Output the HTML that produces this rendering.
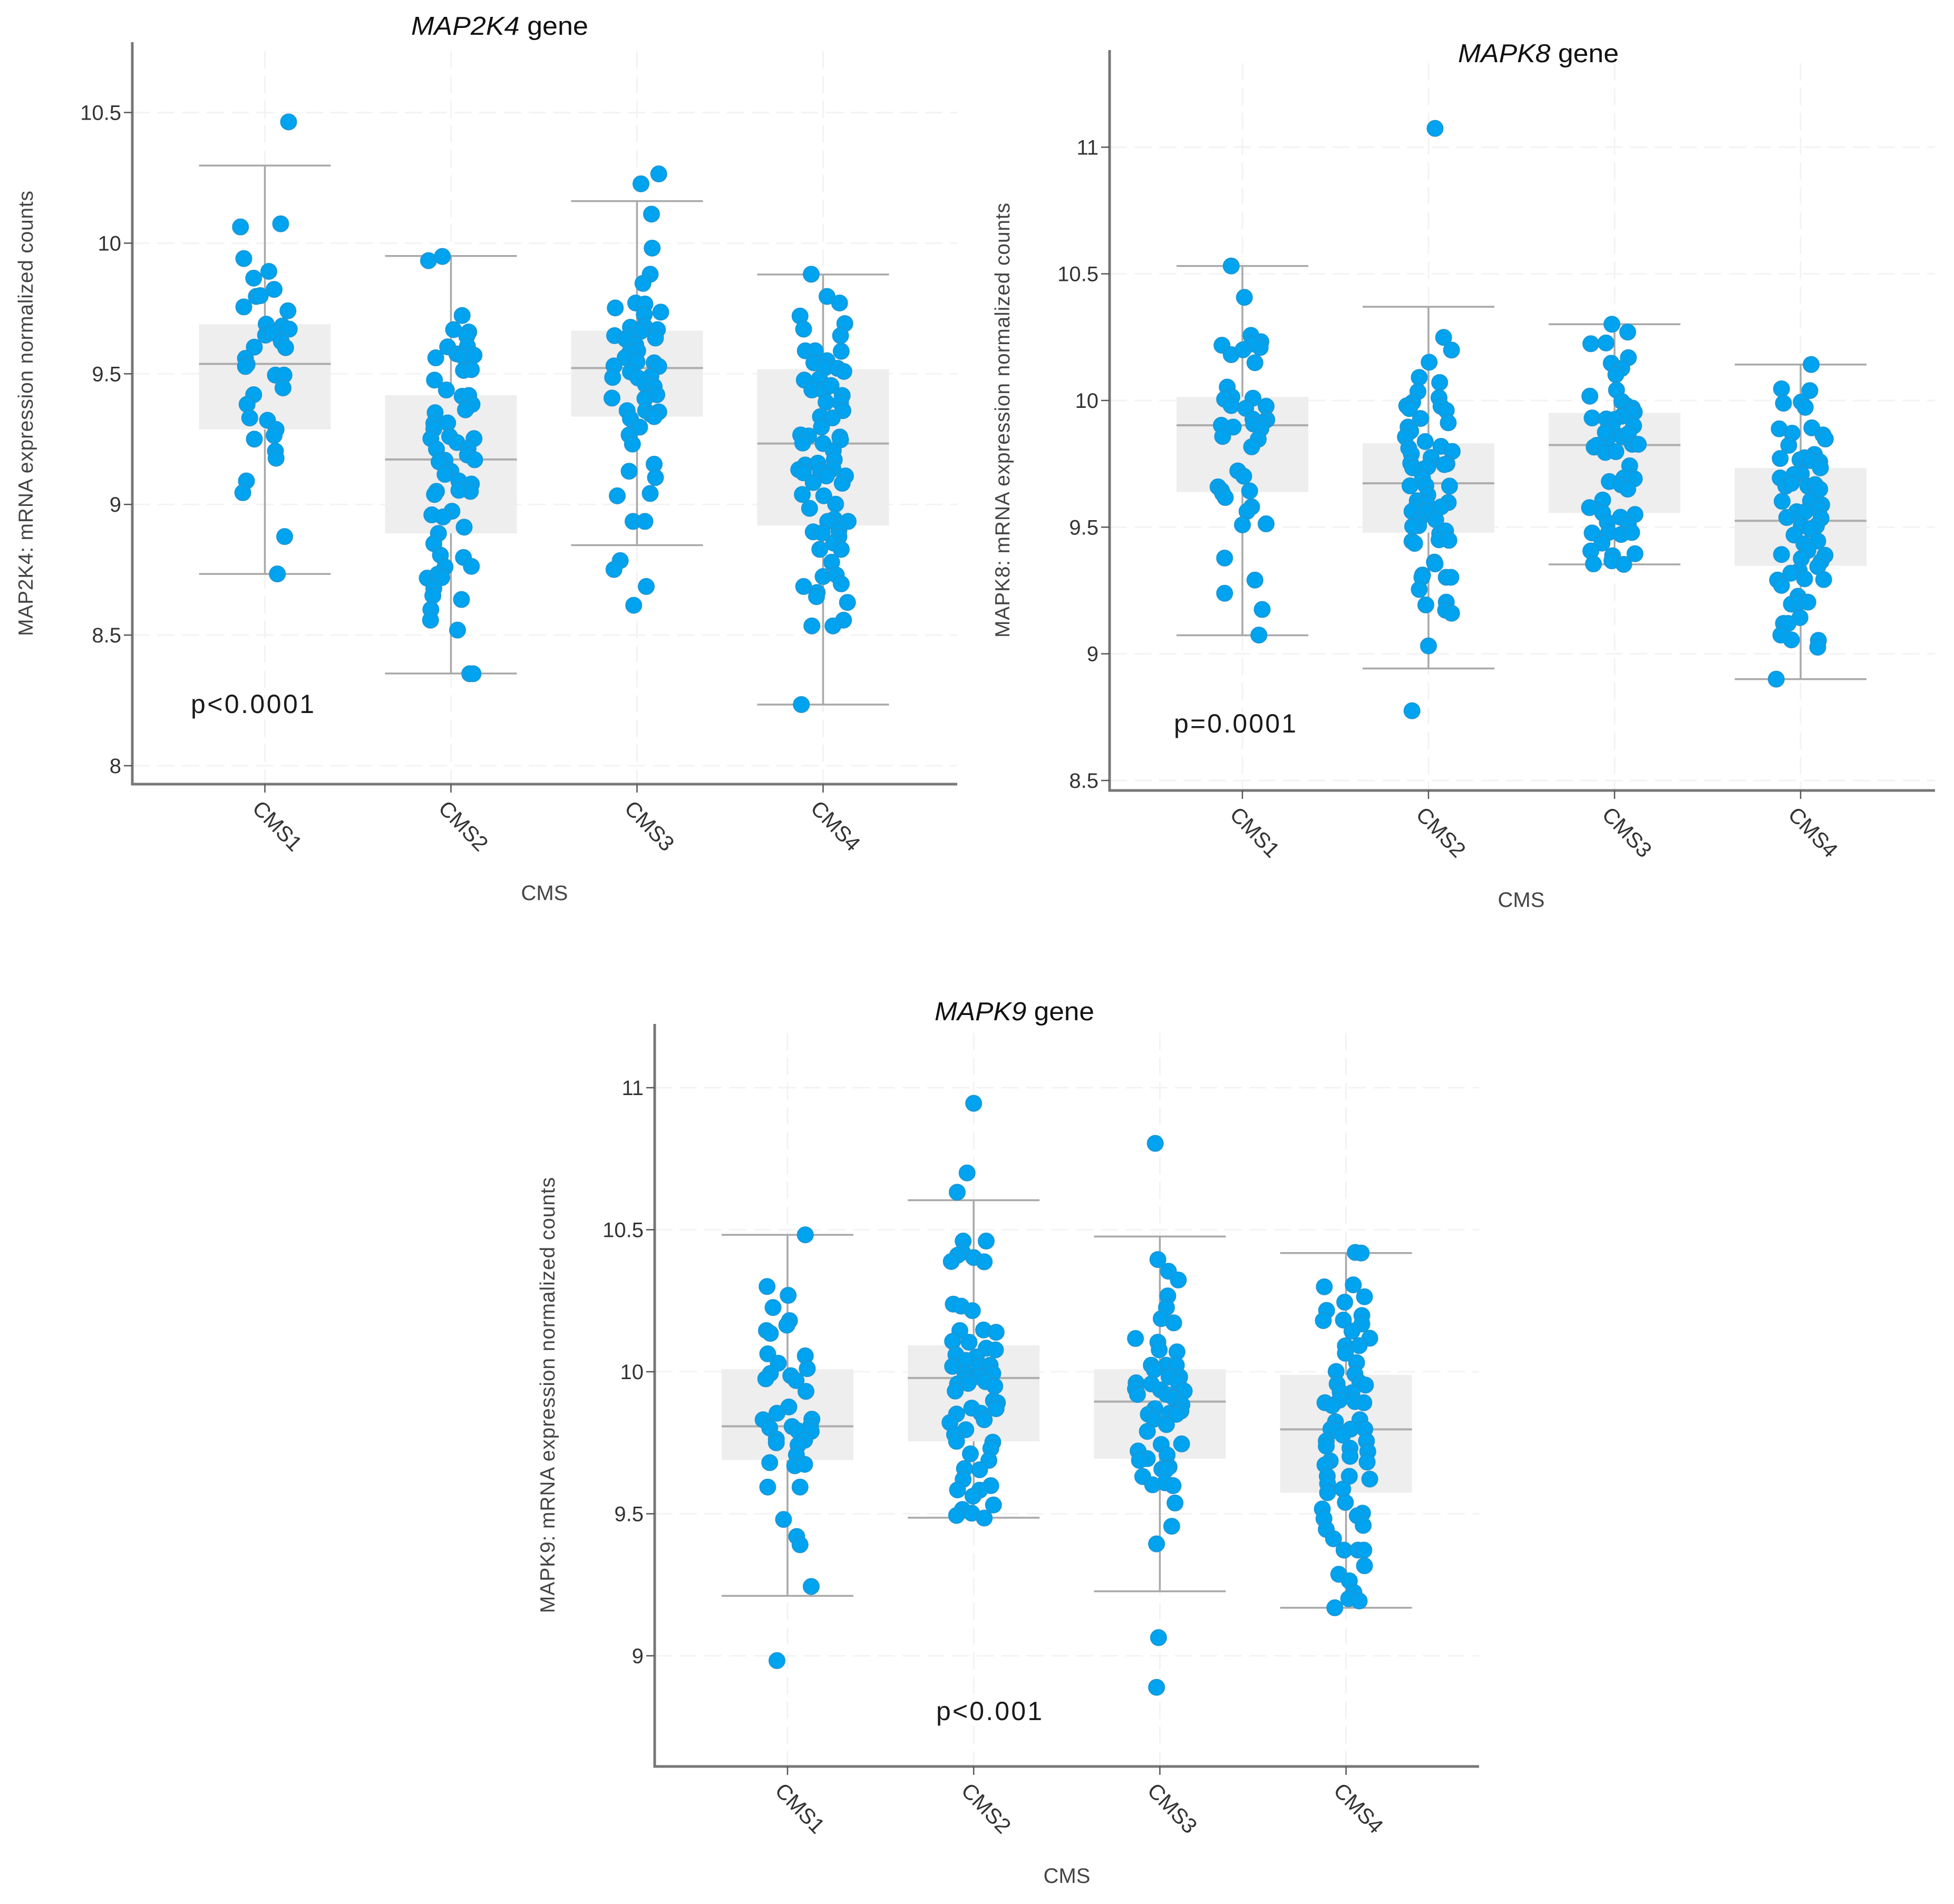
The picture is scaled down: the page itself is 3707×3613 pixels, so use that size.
<!DOCTYPE html>
<html lang="en">
<head>
<meta charset="utf-8">
<title>MAPK pathway gene expression by CMS</title>
<style>
html,body{margin:0;padding:0;background:#fff;}
svg{display:block;font-family:"Liberation Sans",Arial,sans-serif;}
</style>
</head>
<body>
<svg id="figure" xmlns="http://www.w3.org/2000/svg" width="3707" height="3613" viewBox="0 0 3707 3613">
<rect x="0" y="0" width="3707" height="3613" fill="#ffffff"/>
<g id="chart-a"></g>
<g id="chart-b"></g>
<g id="chart-c"></g>

<text x="780" y="66" font-size="49" fill="#111" textLength="336" lengthAdjust="spacingAndGlyphs"><tspan font-style="italic">MAP2K4</tspan> gene</text>
<text x="2766" y="118" font-size="49" fill="#111" textLength="305" lengthAdjust="spacingAndGlyphs"><tspan font-style="italic">MAPK8</tspan> gene</text>
<text x="1773" y="1936" font-size="49" fill="#111" textLength="303" lengthAdjust="spacingAndGlyphs"><tspan font-style="italic">MAPK9</tspan> gene</text>

<text transform="translate(62,1207) rotate(-90)" font-size="39" fill="#444" textLength="845" lengthAdjust="spacing">MAP2K4:  mRNA expression normalized counts</text>
<text transform="translate(1915,1210) rotate(-90)" font-size="39" fill="#444" textLength="825" lengthAdjust="spacing">MAPK8:  mRNA expression normalized counts</text>
<text transform="translate(1052,3061) rotate(-90)" font-size="39" fill="#444" textLength="827" lengthAdjust="spacing">MAPK9:  mRNA expression normalized counts</text>

<text x="1033" y="1708" font-size="40" fill="#444" text-anchor="middle">CMS</text>
<text x="2886" y="1721" font-size="40" fill="#444" text-anchor="middle">CMS</text>
<text x="2024" y="3573" font-size="40" fill="#444" text-anchor="middle">CMS</text>

<text x="362" y="1353" font-size="50" fill="#1a1a1a" textLength="234" lengthAdjust="spacing">p&lt;0.0001</text>
<text x="2227" y="1390" font-size="50" fill="#1a1a1a" textLength="232" lengthAdjust="spacing">p=0.0001</text>
<text x="1776" y="3264" font-size="50" fill="#1a1a1a" textLength="201" lengthAdjust="spacing">p&lt;0.001</text>
</svg>

<script>
// Shared categories
const categories = ['CMS1', 'CMS2', 'CMS3', 'CMS4'];

// ---------- MAP2K4 ----------
const map2k4Ticks = [8, 8.5, 9, 9.5, 10, 10.5];
const map2k4TickLabels = ['8', '8.5', '9', '9.5', '10', '10.5'];
const map2k4Q3 = [9.69, 9.418, 9.665, 9.518];
const map2k4Median = [9.538, 9.172, 9.522, 9.233];
const map2k4Q1 = [9.287, 8.889, 9.336, 8.919];
const map2k4WhiskerHigh = [10.297, 9.951, 10.161, 9.88];
const map2k4WhiskerLow = [8.734, 8.353, 8.844, 8.234];

const map2k4Cms1Values = [10.464,10.062,10.074,9.941,9.892,9.866,9.823,9.796,9.799,9.756,9.741,9.69,9.683,9.671,9.648,9.657,9.623,9.6,9.602,9.559,9.536,9.528,9.495,9.495,9.446,9.42,9.383,9.331,9.322,9.287,9.264,9.25,9.204,9.177,9.09,9.045,8.877,8.734];
const map2k4Cms1Jitter = [.36,-.37,.24,-.32,.06,-.17,.14,-.13,-.07,-.32,.35,.02,.265,.37,.01,.11,.25,.315,-.16,-.295,-.27,-.295,.16,.29,.275,-.17,-.27,-.23,.04,.17,.14,-.16,.16,.17,-.28,-.335,.30,.19];

const map2k4Cms2Values = [9.933,9.949,9.723,9.669,9.66,9.644,9.603,9.605,9.576,9.567,9.571,9.561,9.513,9.516,9.476,9.438,9.414,9.417,9.383,9.362,9.351,9.31,9.312,9.289,9.26,9.252,9.252,9.237,9.215,9.212,9.189,9.171,9.169,9.163,9.127,9.115,9.09,9.078,9.05,9.054,9.05,9.038,8.974,8.96,8.952,8.913,8.889,8.85,8.806,8.797,8.761,8.763,8.718,8.733,8.72,8.679,8.651,8.636,8.598,8.557,8.519,8.352,8.352];
const map2k4Cms2Jitter = [-.34,-.13,.17,.04,.27,.24,-.05,.25,.09,.18,.35,-.23,.19,.31,-.25,-.07,.17,.27,.32,.22,-.24,-.26,-.05,-.26,-.02,-.305,.35,.09,.26,-.22,.25,.36,-.09,-.18,0,-.09,.12,.31,.295,.12,-.22,-.25,.015,-.29,-.12,.20,-.19,-.26,-.16,.19,-.09,.31,-.36,-.20,-.14,-.26,-.275,.16,-.305,-.31,.10,.285,.335];

const map2k4Cms3Values = [10.265,10.227,10.111,9.981,9.881,9.846,9.752,9.771,9.767,9.736,9.727,9.678,9.683,9.669,9.646,9.663,9.646,9.632,9.637,9.611,9.588,9.582,9.562,9.542,9.545,9.53,9.528,9.507,9.486,9.49,9.484,9.458,9.451,9.42,9.407,9.405,9.359,9.359,9.354,9.345,9.336,9.328,9.296,9.266,9.231,9.154,9.127,9.103,9.033,9.042,8.935,8.935,8.785,8.751,8.686,8.614];
const map2k4Cms3Jitter = [.33,.06,.22,.23,.20,.09,-.33,-.02,.12,.36,.11,-.10,.11,.31,-.34,.06,-.12,-.17,.28,-.02,.01,-.11,-.18,.26,0,-.35,.33,-.10,-.37,.21,.015,.13,.26,.30,-.38,.12,-.15,.13,.33,.21,.26,-.10,.04,-.12,-.07,.26,-.12,.28,-.30,.20,-.06,.12,-.255,-.35,.14,-.05];

const map2k4Cms4Values = [9.881,9.796,9.771,9.721,9.692,9.671,9.646,9.588,9.588,9.586,9.542,9.55,9.524,9.521,9.509,9.476,9.481,9.438,9.435,9.455,9.417,9.391,9.389,9.359,9.336,9.331,9.296,9.266,9.262,9.235,9.258,9.247,9.233,9.206,9.171,9.151,9.158,9.133,9.121,9.127,9.136,9.109,9.109,9.081,9.084,9.038,9.033,9.001,8.985,8.944,8.935,8.935,8.895,8.891,8.901,8.877,8.852,8.828,8.828,8.779,8.724,8.73,8.696,8.686,8.663,8.647,8.625,8.557,8.535,8.535,8.234];
const map2k4Cms4Jitter = [-.18,.06,.25,-.35,.33,-.295,.265,-.27,-.12,.275,-.14,.06,.035,.22,.315,-.285,-.055,-.17,.01,.12,.29,.045,.265,.30,-.04,.14,-.025,-.34,-.22,-.31,.255,.265,0,.155,.17,-.27,-.08,-.37,-.30,-.04,.15,.05,.34,.29,-.15,-.315,.01,.19,-.205,.17,.07,.38,-.15,-.015,.24,.24,.16,-.05,.275,.13,0,.20,.275,-.295,-.09,-.10,.37,.31,-.17,.15,-.33];

// ---------- MAPK8 ----------
const mapk8Ticks = [8.5, 9, 9.5, 10, 10.5, 11];
const mapk8TickLabels = ['8.5', '9', '9.5', '10', '10.5', '11'];
const mapk8Q3 = [10.014, 9.831, 9.951, 9.733];
const mapk8Median = [9.902, 9.673, 9.824, 9.525];
const mapk8Q1 = [9.639, 9.478, 9.556, 9.347];
const mapk8WhiskerHigh = [10.531, 10.37, 10.301, 10.142];
const mapk8WhiskerLow = [9.073, 8.942, 9.353, 8.9];

const mapk8Cms1Values = [10.531,10.407,10.257,10.232,10.209,10.223,10.218,10.181,10.2,10.149,10.053,10.014,10.005,10.009,9.98,9.969,9.977,9.924,9.926,9.912,9.907,9.902,9.895,9.889,9.858,9.847,9.817,9.722,9.701,9.659,9.645,9.633,9.617,9.643,9.58,9.562,9.509,9.513,9.378,9.291,9.239,9.175,9.074];
const mapk8Cms1Jitter = [-.17,.03,.13,.28,.27,.14,-.31,-.17,.01,.19,-.23,-.16,-.27,.16,-.17,.05,.36,.37,.16,.31,.17,-.32,-.14,.28,-.30,.24,.14,-.07,.02,-.37,-.32,-.30,-.26,.11,.14,.07,0,.36,-.27,.19,-.27,.30,.25];

const mapk8Cms2Values = [11.074,10.249,10.199,10.151,10.091,10.071,10.035,10.011,9.993,9.979,9.968,9.977,9.961,9.929,9.912,9.895,9.879,9.856,9.838,9.819,9.799,9.812,9.789,9.775,9.752,9.75,9.747,9.734,9.729,9.738,9.692,9.663,9.664,9.662,9.627,9.604,9.597,9.58,9.594,9.578,9.562,9.562,9.529,9.529,9.506,9.503,9.474,9.485,9.45,9.448,9.444,9.436,9.362,9.355,9.311,9.302,9.302,9.302,9.254,9.193,9.204,9.172,9.16,9.031,8.775];
const mapk8Cms2Jitter = [.10,.23,.35,.01,-.14,.17,-.16,.16,-.24,-.33,-.29,.19,.27,-.12,.30,-.31,-.27,-.35,-.05,.19,.36,-.30,-.26,.04,-.27,.28,.24,-.24,-.08,-.01,-.09,-.28,-.04,.32,-.01,-.17,.30,.19,-.03,-.19,-.25,-.03,-.14,.11,-.15,-.24,.17,.26,.16,.31,-.25,-.21,.09,.10,-.09,-.10,.27,.34,-.14,-.04,.27,.26,.35,0,-.25];

const mapk8Cms3Values = [10.301,10.27,10.224,10.227,10.169,10.147,10.127,10.102,10.041,10.017,9.996,9.98,9.97,9.954,9.954,9.938,9.931,9.927,9.925,9.9,9.896,9.858,9.848,9.874,9.869,9.816,9.823,9.827,9.827,9.795,9.798,9.742,9.691,9.694,9.68,9.667,9.65,9.607,9.577,9.556,9.55,9.539,9.519,9.508,9.477,9.479,9.471,9.479,9.437,9.406,9.387,9.395,9.367,9.355,9.353];
const mapk8Cms3Jitter = [-.04,.20,-.36,-.13,.21,-.05,.11,.02,.03,-.375,.11,.18,.27,.30,.25,.11,-.34,-.125,0,.29,-.04,.11,-.11,-.14,.21,-.31,-.27,.27,.36,-.14,.02,.23,.30,.14,-.08,.10,.20,-.18,-.38,-.18,.31,.09,-.11,.21,-.34,-.09,.10,.26,-.19,-.36,-.03,.31,-.04,-.32,.14];

const mapk8Cms4Values = [10.142,10.046,10.039,9.989,9.994,9.973,9.888,9.871,9.892,9.864,9.848,9.823,9.771,9.766,9.774,9.787,9.758,9.763,9.734,9.71,9.708,9.694,9.662,9.673,9.662,9.668,9.65,9.602,9.604,9.588,9.569,9.561,9.561,9.538,9.535,9.505,9.505,9.493,9.469,9.445,9.434,9.408,9.392,9.389,9.376,9.365,9.344,9.328,9.318,9.291,9.296,9.293,9.27,9.227,9.196,9.204,9.204,9.143,9.12,9.12,9.074,9.055,9.053,9.026,8.9];
const mapk8Cms4Jitter = [.16,-.29,.14,-.26,.01,.07,-.325,-.13,.17,.34,.375,-.18,-.31,-.01,.06,.21,.29,.15,.30,.01,-.10,-.31,-.225,-.14,.11,.22,.29,-.28,.15,.32,.275,-.06,.07,-.21,.31,.01,.24,.15,-.10,.26,.05,.11,-.29,.37,.01,.31,.26,-.02,-.15,-.35,.06,.35,-.29,-.04,-.14,-.02,.11,-.01,-.26,-.19,-.30,-.14,.27,.26,-.37];

// ---------- MAPK9 ----------
const mapk9Ticks = [9, 9.5, 10, 10.5, 11];
const mapk9TickLabels = ['9', '9.5', '10', '10.5', '11'];
const mapk9Q3 = [10.009, 10.093, 10.009, 9.989];
const mapk9Median = [9.808, 9.978, 9.895, 9.797];
const mapk9Q1 = [9.689, 9.755, 9.694, 9.574];
const mapk9WhiskerHigh = [10.482, 10.604, 10.476, 10.418];
const mapk9WhiskerLow = [9.211, 9.486, 9.227, 9.169];

const mapk9Cms1Values = [10.482,10.3,10.269,10.226,10.18,10.164,10.145,10.135,10.063,10.056,10.03,10.011,9.994,9.975,9.986,9.969,9.931,9.876,9.854,9.831,9.833,9.802,9.807,9.808,9.792,9.79,9.763,9.75,9.759,9.742,9.707,9.68,9.669,9.674,9.594,9.594,9.48,9.42,9.391,9.244,8.983];
const mapk9Cms1Jitter = [.27,-.31,.01,-.22,.03,-.01,-.32,-.26,-.30,.27,-.14,.30,-.26,-.33,.05,.13,.28,.02,-.16,-.37,.37,-.27,.07,.35,.16,.36,-.17,-.17,.26,.16,.135,-.27,.11,.26,-.30,.19,-.06,.14,.19,.36,-.16];

const mapk9Cms2Values = [10.945,10.7,10.632,10.46,10.46,10.421,10.41,10.388,10.402,10.387,10.238,10.231,10.215,10.145,10.147,10.139,10.107,10.104,10.083,10.077,10.06,10.052,10.04,10.019,10.019,10.023,9.994,9.994,9.974,9.982,9.957,9.959,9.965,9.949,9.932,9.898,9.891,9.87,9.872,9.854,9.851,9.831,9.821,9.796,9.779,9.755,9.752,9.73,9.711,9.688,9.655,9.659,9.621,9.584,9.599,9.583,9.562,9.531,9.515,9.494,9.502,9.485];
const mapk9Cms2Jitter = [0,-.10,-.25,-.16,.19,-.17,-.245,-.34,0,.16,-.31,-.19,-.02,-.21,.15,.34,-.32,-.07,.19,.33,-.27,.04,-.12,-.32,.09,.25,-.13,.29,-.14,.085,-.245,-.085,.18,.32,-.28,.30,.36,.34,-.03,.11,-.26,.16,-.36,-.12,-.29,-.26,.29,.26,-.05,.23,.09,-.14,-.16,-.245,.26,.09,-.01,.30,-.17,-.26,-.03,.16];

const mapk9Cms3Values = [10.804,10.395,10.354,10.323,10.267,10.226,10.187,10.172,10.117,10.104,10.077,10.07,10.023,10.023,10.023,10.007,9.982,9.982,9.961,9.957,9.961,9.94,9.936,9.932,9.92,9.92,9.908,9.884,9.87,9.85,9.854,9.862,9.85,9.833,9.814,9.79,9.744,9.746,9.721,9.707,9.694,9.688,9.657,9.665,9.657,9.631,9.602,9.609,9.599,9.538,9.456,9.394,9.064,8.889];
const mapk9Cms3Jitter = [-.07,-.03,.13,.28,.12,.10,.02,.21,-.37,-.03,-.01,.26,-.13,.10,.25,-.085,.30,.14,-.36,-.13,.28,-.37,.01,.37,-.34,.10,.21,.335,-.075,-.175,.15,.32,.25,-.09,.10,-.19,.02,.33,-.33,.11,-.19,-.31,.03,.14,.10,-.26,-.11,.08,.20,.23,.18,-.05,-.02,-.05];

const mapk9Cms4Values = [10.42,10.418,10.299,10.306,10.264,10.245,10.216,10.18,10.182,10.198,10.168,10.143,10.118,10.091,10.092,10.065,10.032,10.001,9.992,9.957,9.961,9.953,9.926,9.929,9.9,9.891,9.881,9.895,9.891,9.824,9.831,9.798,9.793,9.798,9.798,9.777,9.756,9.756,9.738,9.731,9.719,9.702,9.686,9.672,9.682,9.632,9.632,9.622,9.606,9.574,9.587,9.54,9.517,9.502,9.493,9.483,9.459,9.445,9.412,9.372,9.372,9.372,9.317,9.287,9.264,9.223,9.201,9.193,9.169];
const mapk9Cms4Jitter = [.14,.23,-.33,.11,.28,-.02,-.295,-.345,-.04,.24,.24,.09,.36,-.01,.20,-.01,.16,-.15,.135,-.135,.21,.295,.09,-.09,-.10,-.32,-.21,.135,.27,-.16,.21,-.23,-.14,.07,.285,-.05,-.30,.31,-.30,.06,.33,.06,-.24,-.32,.32,-.285,.05,.36,-.28,-.28,-.05,-.01,-.36,.25,.17,-.335,.26,-.30,-.19,-.03,.18,.27,.28,-.11,.05,.12,.04,.20,-.17];

// ---------- Chart descriptions (data references only) ----------
const map2k4Series = {
  values: [map2k4Cms1Values, map2k4Cms2Values, map2k4Cms3Values, map2k4Cms4Values],
  jitter: [map2k4Cms1Jitter, map2k4Cms2Jitter, map2k4Cms3Jitter, map2k4Cms4Jitter],
  q3: map2k4Q3, median: map2k4Median, q1: map2k4Q1, high: map2k4WhiskerHigh, low: map2k4WhiskerLow,
  ticks: map2k4Ticks, tickLabels: map2k4TickLabels
};
const mapk8Series = {
  values: [mapk8Cms1Values, mapk8Cms2Values, mapk8Cms3Values, mapk8Cms4Values],
  jitter: [mapk8Cms1Jitter, mapk8Cms2Jitter, mapk8Cms3Jitter, mapk8Cms4Jitter],
  q3: mapk8Q3, median: mapk8Median, q1: mapk8Q1, high: mapk8WhiskerHigh, low: mapk8WhiskerLow,
  ticks: mapk8Ticks, tickLabels: mapk8TickLabels
};
const mapk9Series = {
  values: [mapk9Cms1Values, mapk9Cms2Values, mapk9Cms3Values, mapk9Cms4Values],
  jitter: [mapk9Cms1Jitter, mapk9Cms2Jitter, mapk9Cms3Jitter, mapk9Cms4Jitter],
  q3: mapk9Q3, median: mapk9Median, q1: mapk9Q1, high: mapk9WhiskerHigh, low: mapk9WhiskerLow,
  ticks: mapk9Ticks, tickLabels: mapk9TickLabels
};

const SVG_NS = 'http://www.w3.org/2000/svg';
const BOX_HALF = 125;
const DOT_R = 15;

function make(parent, tag, attrs) {
  const el = document.createElementNS(SVG_NS, tag);
  for (const k in attrs) el.setAttribute(k, attrs[k]);
  parent.appendChild(el);
  return el;
}

function drawChart(rootId, series, frame) {
  const root = document.getElementById(rootId);
  const yScale = v => frame.refPx - (v - frame.refValue) * frame.pxPerUnit;
  const xScale = i => frame.firstCat + i * frame.catStep;

  // Gridlines
  series.ticks.forEach(function (t) {
    const grid = make(root, 'line', {x1: frame.axisX, x2: frame.right, y1: yScale(t), y2: yScale(t), stroke: '#f3f3f3', 'stroke-width': 3, 'stroke-dasharray': '33 14'});
    
    
  });
  categories.forEach(function (c, i) {
    const grid = make(root, 'line', {x1: xScale(i), x2: xScale(i), y1: frame.gridTop, y2: frame.base, stroke: '#f3f3f3', 'stroke-width': 3, 'stroke-dasharray': '33 14'});
    
    
  });

  // Boxes and whiskers
  categories.forEach(function (c, i) {
    const cx = xScale(i);
    const stem = make(root, 'line', {x1: cx, x2: cx, y1: yScale(series.high[i]), y2: yScale(series.low[i]), stroke: '#a8a8a8', 'stroke-width': 3.5});
    
    

    const capHigh = make(root, 'line', {x1: cx - BOX_HALF, x2: cx + BOX_HALF, y1: yScale(series.high[i]), y2: yScale(series.high[i]), stroke: '#a8a8a8', 'stroke-width': 3.5});
    
    

    const capLow = make(root, 'line', {x1: cx - BOX_HALF, x2: cx + BOX_HALF, y1: yScale(series.low[i]), y2: yScale(series.low[i]), stroke: '#a8a8a8', 'stroke-width': 3.5});
    
    

    const box = make(root, 'rect', {x: cx - BOX_HALF, width: BOX_HALF * 2, y: yScale(series.q3[i]), height: yScale(series.q1[i]) - yScale(series.q3[i]), fill: '#eeeeee'});
    
    

    const med = make(root, 'line', {x1: cx - BOX_HALF, x2: cx + BOX_HALF, y1: yScale(series.median[i]), y2: yScale(series.median[i]), stroke: '#adadad', 'stroke-width': 4});
    
    
  });

  // Points
  categories.forEach(function (c, i) {
    series.values[i].forEach(function (v, k) {
      const dot = make(root, 'circle', {cx: xScale(i) + series.jitter[i][k] * BOX_HALF, cy: yScale(v), r: DOT_R, fill: '#00a3ef', stroke: '#1b97d6', 'stroke-width': 2});
      
      
    });
  });

  // Axes
  const yAxis = make(root, 'line', {x1: frame.axisX, x2: frame.axisX, y1: frame.axisTop, y2: frame.base + 2.5, stroke: '#777777', 'stroke-width': 5});
  
  

  const xAxis = make(root, 'line', {x1: frame.axisX, x2: frame.right, y1: frame.base, y2: frame.base, stroke: '#777777', 'stroke-width': 5});
  
  

  series.ticks.forEach(function (t, i) {
    const mark = make(root, 'line', {x1: frame.axisX - 16, x2: frame.axisX, y1: yScale(t), y2: yScale(t), stroke: '#555555', 'stroke-width': 2.5});
    
    

    const label = make(root, 'text', {x: frame.axisX - 21, y: yScale(t) + 14, 'font-size': 40, fill: '#333333', 'text-anchor': 'end'});
    label.textContent = series.tickLabels[i];
    
    
  });

  categories.forEach(function (c, i) {
    const cx = xScale(i);
    const mark = make(root, 'line', {x1: cx, x2: cx, y1: frame.base, y2: frame.base + 16, stroke: '#555555', 'stroke-width': 2.5});
    
    

    const label = make(root, 'text', {transform: 'translate(' + (cx - 26) + ',' + (frame.base + 48) + ') rotate(46)', 'font-size': 41, fill: '#333333'});
    label.textContent = c;
    
    
  });
}

drawChart('chart-a', map2k4Series, {axisX: 251, axisTop: 80, gridTop: 97, base: 1488, right: 1816, firstCat: 502.5, catStep: 353, refValue: 8, refPx: 1453, pxPerUnit: 495.8});
drawChart('chart-b', mapk8Series, {axisX: 2105, axisTop: 95, gridTop: 120, base: 1500, right: 3671, firstCat: 2357, catStep: 353, refValue: 8.5, refPx: 1481, pxPerUnit: 480.7});
drawChart('chart-c', mapk9Series, {axisX: 1242, axisTop: 1943, gridTop: 1960, base: 3352, right: 2806, firstCat: 1494, catStep: 353.2, refValue: 9, refPx: 3142, pxPerUnit: 539});
</script>
</body>
</html>
